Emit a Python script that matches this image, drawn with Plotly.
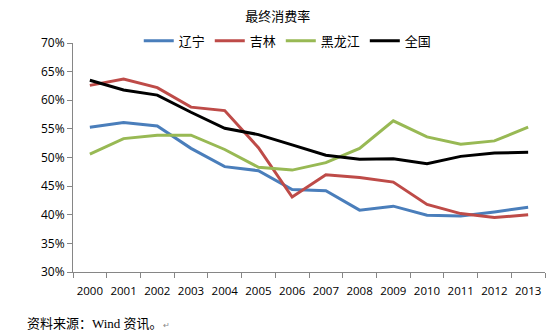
import plotly.graph_objects as go

years = [str(y) for y in range(2000, 2014)]
liaoning = [55.3, 56.1, 55.5, 51.6, 48.4, 47.7, 44.4, 44.2, 40.8, 41.5, 39.9, 39.8, 40.5, 41.3]
jilin = [62.6, 63.7, 62.2, 58.8, 58.2, 51.7, 43.1, 47.0, 46.5, 45.7, 41.8, 40.2, 39.5, 40.0]
heilongjiang = [50.6, 53.3, 53.9, 53.9, 51.4, 48.3, 47.8, 49.1, 51.6, 56.4, 53.6, 52.3, 52.9, 55.3]
national = [63.5, 61.8, 60.9, 57.9, 55.1, 54.0, 52.2, 50.4, 49.7, 49.8, 48.9, 50.2, 50.8, 50.9]

series = [
    ("辽宁", liaoning, "#4A7EBB"),
    ("吉林", jilin, "#BE4B48"),
    ("黑龙江", heilongjiang, "#98B954"),
    ("全国", national, "#000000"),
]

fig = go.Figure()
for name, vals, color in series:
    fig.add_trace(go.Scatter(
        x=years, y=vals, name=name, mode="lines",
        line=dict(color=color, width=3),
    ))

fig.update_layout(
    width=550, height=336,
    margin=dict(l=73, r=5, t=43, b=64),
    paper_bgcolor="white", plot_bgcolor="white",
    font=dict(family="Open Sans, Noto Sans CJK SC", size=12, color="#000000"),
    title=dict(text="最终消费率", x=0.505, xanchor="center", y=0.952, yanchor="middle",
               font=dict(family="Noto Sans CJK SC", size=13, color="#000")),
    legend=dict(orientation="h", x=0.455, xanchor="center", y=1.01, yanchor="middle",
                font=dict(family="Noto Sans CJK SC", size=13), bgcolor="rgba(0,0,0,0)",
                itemwidth=30, tracegroupgap=0),
    showlegend=True,
)
fig.update_xaxes(
    type="category", range=[-0.5, 13.5], tickangle=0,
    showline=True, linecolor="#868686", linewidth=1,
    ticks="outside", ticklen=5, tickcolor="#868686", tickson="boundaries",
    ticklabelstandoff=8,
    showgrid=False, tickfont=dict(size=11.5, family="Open Sans"),
)
fig.update_yaxes(
    range=[30, 70], dtick=5, ticksuffix="%",
    showline=True, linecolor="#868686", linewidth=1,
    ticks="outside", ticklen=5, tickcolor="#868686",
    showgrid=False, zeroline=False, tickfont=dict(size=12, family="Open Sans"),
)
fig.add_annotation(
    xref="paper", yref="paper", x=-0.1017, y=-0.223, xanchor="left", yanchor="middle",
    text="资料来源：Wind 资讯。<span style='font-size:8px;color:#888'>↵</span>",
    showarrow=False, font=dict(family="Liberation Serif, Noto Sans CJK SC", size=13, color="#000"),
)

fig.write_html("out.html")
